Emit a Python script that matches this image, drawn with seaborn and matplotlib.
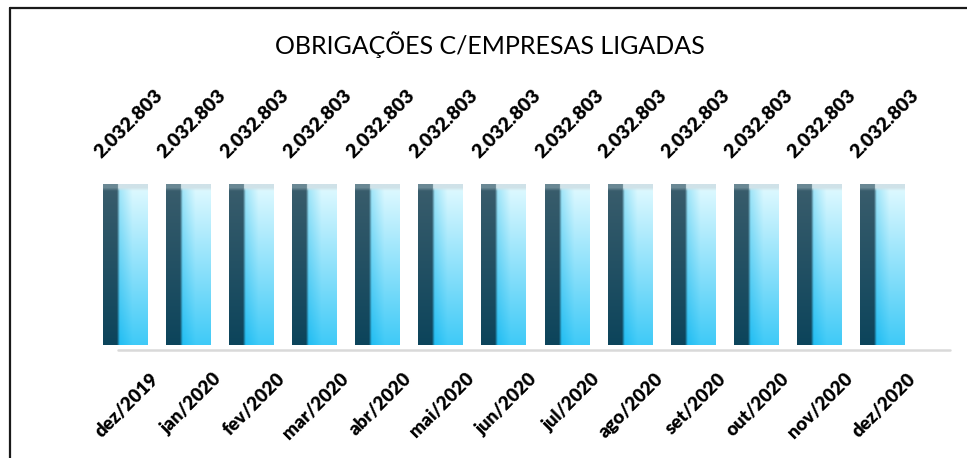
import numpy as np
import matplotlib
matplotlib.use("Agg")
import matplotlib.pyplot as plt
import seaborn as sns
from matplotlib.colors import to_rgb
from matplotlib.lines import Line2D

# data
months = ['dez/2019', 'jan/2020', 'fev/2020', 'mar/2020', 'abr/2020', 'mai/2020',
          'jun/2020', 'jul/2020', 'ago/2020', 'set/2020', 'out/2020', 'nov/2020',
          'dez/2020']
values = [2032803] * 13
title = 'OBRIGAÇÕES C/EMPRESAS LIGADAS'

sns.set_style('white')
plt.rcParams['font.family'] = ['Lato', 'DejaVu Sans']


def fmt(v):
    return f'{v:,}'.replace(',', '.')


def bar_gradient(n_rows=160, n_cols=60):
    # rough "3D" look: dark left face, bright right face, light cap on top
    v = np.linspace(0, 1, n_rows)[:, None, None]
    u = np.linspace(0, 1, n_cols)[None, :, None]
    dark_top, dark_bot = np.array(to_rgb('#3a5d6c')), np.array(to_rgb('#0c445b'))
    light_top, light_bot = np.array(to_rgb('#e2faff')), np.array(to_rgb('#3fcaf7'))
    edge_top, edge_bot = np.array(to_rgb('#a4e6f8')), np.array(to_rgb('#22bdf2'))
    dark = dark_top + (dark_bot - dark_top) * v
    light = light_top + (light_bot - light_top) * v
    edge = edge_top + (edge_bot - edge_top) * v
    # light face: a bit deeper near its left edge, whitish on the right
    k = np.clip((u - 0.36) / 0.3, 0, 1)
    light = edge + (light - edge) * k
    # blend dark -> light around one third of the width
    t = np.clip((u - 0.31) / 0.06, 0, 1)
    img = dark + (light - dark) * t
    # rounded-looking top cap
    cap = np.clip((0.04 - v) / 0.02, 0, 1)
    cap_col = np.where(u < 0.33, np.array(to_rgb('#6a8894')), np.array(to_rgb('#cfe2e8')))
    img = img * (1 - cap) + cap_col * cap
    return np.clip(img, 0, 1)


fig = plt.figure(figsize=(9.67, 4.58), dpi=100)
ax = fig.add_axes([93.5 / 967, 113 / 458, 820 / 967, 229 / 458])

sns.barplot(x=months, y=values, ax=ax, color='#2ec4f6', saturation=1, width=0.7)

grad = bar_gradient()
for patch in ax.patches:
    x0, y0 = patch.get_x(), patch.get_y()
    w, h = patch.get_width(), patch.get_height()
    patch.set_facecolor('none')
    patch.set_edgecolor('none')
    im = ax.imshow(grad, extent=(x0, x0 + w, y0, y0 + h), aspect='auto',
                   origin='upper', interpolation='bilinear', zorder=2)
    im.set_clip_path(patch)

ax.set_xlim(-0.5, len(months) - 0.5)
ax.set_ylim(0, 2.9e6)
ax.set_xticks([])
ax.set_yticks([])
ax.set_xlabel('')
ax.set_ylabel('')
sns.despine(ax=ax, left=True, bottom=True)

# baseline (offset like the 3D floor)
ax.plot([0.03, 1.045], [-0.022, -0.022], transform=ax.transAxes,
        color='#d9d9d9', lw=1.8, clip_on=False)

# value labels
for i, v in enumerate(values):
    ax.annotate(fmt(v), xy=(i, v), xytext=(-22, 23), textcoords='offset pixels',
                rotation=45, rotation_mode='anchor', ha='left', va='bottom',
                fontsize=14, fontweight='heavy', color='black')

# category labels
for i, m in enumerate(months):
    ax.annotate(m, xy=(i, 0), xytext=(25, -25), textcoords='offset pixels',
                rotation=45, rotation_mode='anchor', ha='right', va='top',
                fontsize=13.5, fontweight='heavy', color='black', annotation_clip=False)

fig.text(490 / 967, 1 - 45 / 458, title, ha='center', va='center', fontsize=18,
         color='black')

# frame of the chart area (top and left visible)
fig.add_artist(Line2D([9.5 / 967, 1], [1 - 7.5 / 458, 1 - 7.5 / 458],
                      transform=fig.transFigure, color='#1a1a1a', lw=1.6))
fig.add_artist(Line2D([9.5 / 967, 9.5 / 967], [0, 1 - 7.5 / 458],
                      transform=fig.transFigure, color='#1a1a1a', lw=1.6))

fig.savefig('out.png', dpi=100)
